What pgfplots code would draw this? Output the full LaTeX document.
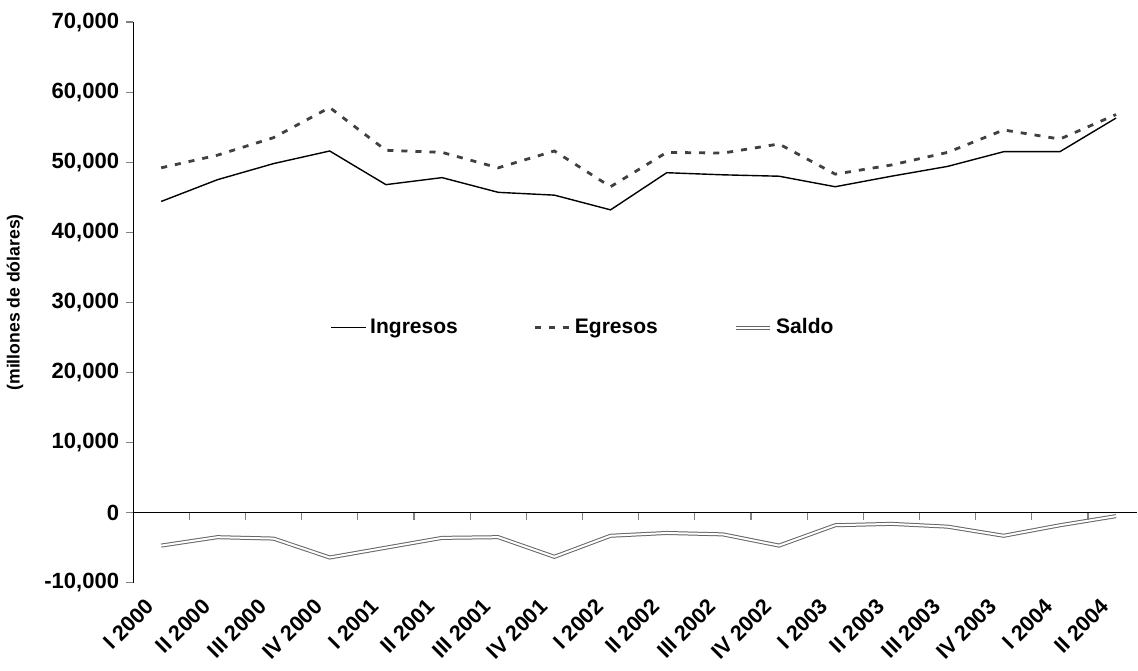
\documentclass[border=0pt]{standalone}
\usepackage{pgfplots}
\pgfplotsset{compat=1.18}
\usepackage{fontspec}
\setmainfont{Liberation Sans}

% valores trimestrales, millones de dolares
\pgfplotstableread{
x ingresos egresos saldo
0  44400 49200 -4700
1  47500 51000 -3500
2  49800 53500 -3700
3  51600 57800 -6400
4  46800 51700 -5000
5  47800 51400 -3600
6  45700 49200 -3500
7  45300 51600 -6300
8  43200 46500 -3300
9  48500 51400 -2900
10 48200 51300 -3100
11 48000 52600 -4700
12 46500 48300 -1800
13 48000 49600 -1600
14 49400 51400 -2000
15 51500 54600 -3300
16 51500 53300 -1800
17 56300 56800 -500
}\datos

\begin{document}
\begin{tikzpicture}
\begin{axis}[
    scale only axis,
    width=501.5pt, height=280pt,
    xmin=-0.5, xmax=17.38,
    ymin=-10000, ymax=70000,
    ytick distance=10000,
    axis lines*=left,
    x axis line style={draw=none},
    y axis line style={-, line width=0.6pt},
    xtick style={draw=none},
    ytick style={line width=0.6pt},
    tick align=outside,
    major tick length=3.5pt,
    xtick=data,
    xticklabels={I 2000,II 2000,III 2000,IV 2000,I 2001,II 2001,III 2001,IV 2001,I 2002,II 2002,III 2002,IV 2002,I 2003,II 2003,III 2003,IV 2003,I 2004,II 2004},
    xticklabel style={font=\fontsize{10.8}{12}\selectfont\bfseries, xshift=-3pt, yshift=-4pt, rotate=45, anchor=east},
    yticklabel style={font=\fontsize{11}{12}\selectfont\bfseries},
    /pgf/number format/assume math mode=true,
    /pgf/number format/.cd, 1000 sep={,}, /pgfplots/.cd,
    scaled y ticks=false,
    ylabel={(millones de dólares)},
    every axis y label/.style={at={(axis description cs:0,0.5)}, xshift=-59pt, rotate=90, anchor=center, font=\fontsize{8.8}{10}\selectfont\bfseries},
    legend columns=3,
    legend style={draw=none, fill=none, at={(axis description cs:0.449,0.455)}, anchor=center,
        font=\fontsize{10.5}{13}\selectfont\bfseries,
        /tikz/every even column/.append style={column sep=36pt},
        /tikz/every odd column/.append style={column sep=0pt}},
    legend cell align=left,
    clip=false,
]
\addplot[black, line width=0.7pt] table[x=x, y=ingresos] {\datos};
\addlegendentry{Ingresos}
\addplot[black!75, line width=1.4pt, dash pattern=on 3pt off 4pt] table[x=x, y=egresos] {\datos};
\addlegendentry{Egresos}
\addplot[black!60, line width=0.5pt, double=white, double distance=1pt] table[x=x, y=saldo] {\datos};
\addlegendentry{Saldo}
\end{axis}
\begin{axis}[
    scale only axis,
    width=501.5pt, height=280pt,
    xmin=-0.5, xmax=17.38,
    ymin=-10000, ymax=70000,
    axis x line=middle, axis y line=none,
    x axis line style={-, line width=0.6pt},
    xtick={0.5,1.5,...,16.5},
    xticklabels={},
    tick align=outside,
    major tick length=3.5pt,
    xtick style={line width=0.6pt},
    ytick=\empty,
]
\end{axis}
\path ([yshift=11pt]current axis.north);
\end{tikzpicture}
\end{document}
